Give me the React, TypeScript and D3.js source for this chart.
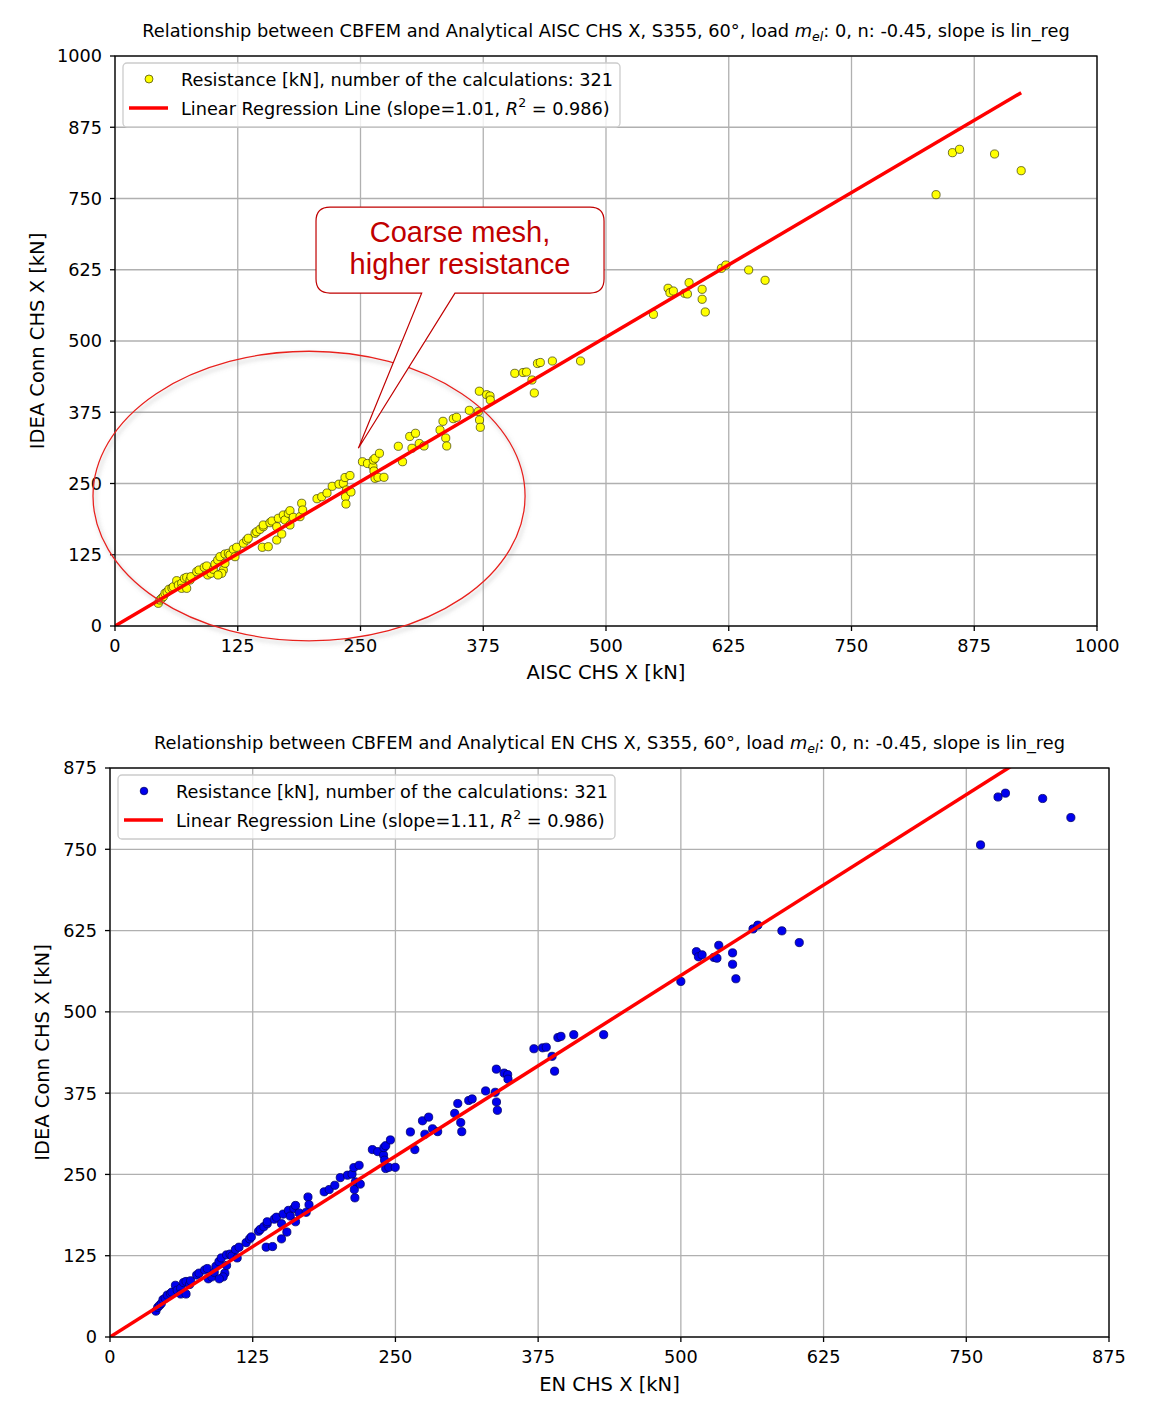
import React from 'react';
import * as d3 from 'd3';

// values: AISC resistance, EN resistance, IDEA Conn resistance [kN]
const aiscX = [
  44.1, 45.8, 47.6, 49.2, 50.9, 53, 55, 58, 59.4, 62.8, 64.5, 67.9, 67.9, 70.6, 73, 73, 76.4, 77.4, 83.2, 85.5,
  90.9, 93.4, 94.4, 97.8, 100.1, 101.8, 104.6, 106.9, 110.3, 112, 112, 115.4, 108.7, 104.9, 117.1, 120.5, 123.9, 122.2, 130.7, 134.1,
  135.7, 142.6, 144.3, 147.7, 151, 151, 150, 156.1, 157.8, 159.9, 164.7, 166.3, 164.7, 169.8, 171.4, 173.1, 176.5, 178.2, 178.2, 181.6,
  188.4, 190.1, 191.1, 205.7, 210.5, 215.9, 221.2, 228.1, 232.5, 234.2, 239.3, 235.7, 234.7, 235.2, 240.3, 252, 257.1, 262.7, 263, 264.8,
  269.3, 263.7, 264.8, 267.8, 273.9, 288.5, 292.8, 300.1, 306, 302.4, 309.8, 314.7, 331, 334, 336.8, 337.8, 344.5, 347.8, 360.8, 370,
  371.2, 372, 371, 378.5, 381.9, 382.2, 407.1, 415.5, 419, 424.6, 427, 430.2, 433.1, 445.4, 474.1, 548.3, 563.2, 565.1, 568.6, 580,
  582.9, 584.6, 597.9, 597.9, 601.1, 617.5, 622.1, 645.3, 662, 836.1, 852.8, 860, 895.7, 922.8,
];
const enX = [
  40.2, 41.8, 43.4, 44.9, 46.4, 48.3, 50.2, 52.9, 54.2, 57.3, 58.8, 61.9, 61.9, 64.4, 66.6, 66.6, 69.7, 70.6, 75.9, 78.0,
  82.9, 85.2, 86.1, 89.2, 91.3, 92.8, 95.4, 97.5, 100.6, 102.1, 102.1, 105.2, 99.1, 95.7, 106.8, 109.9, 113.0, 111.4, 119.2, 122.3,
  123.8, 130.1, 131.6, 134.7, 137.7, 137.7, 136.8, 142.4, 143.9, 145.8, 150.2, 151.7, 150.2, 154.9, 156.3, 157.9, 161.0, 162.5, 162.5, 165.6,
  171.8, 173.4, 174.3, 187.6, 192.0, 196.9, 201.7, 208.0, 212.0, 213.6, 218.2, 215.0, 214.0, 214.5, 219.2, 229.8, 234.5, 239.6, 239.9, 241.5,
  245.6, 240.5, 241.5, 244.2, 249.8, 263.1, 267.0, 273.7, 279.1, 275.8, 282.5, 287.0, 301.9, 304.6, 307.2, 308.1, 314.2, 317.2, 329.0, 337.4,
  338.5, 339.3, 338.4, 345.2, 348.3, 348.6, 371.3, 378.9, 382.1, 387.2, 389.4, 392.3, 395.0, 406.2, 432.4, 500.0, 513.6, 515.4, 518.6, 529.0,
  531.6, 533.2, 545.3, 545.3, 548.2, 563.2, 567.4, 588.5, 603.7, 762.5, 777.8, 784.3, 816.9, 841.6,
];
const ideaY = [
  39.8, 45.6, 48.6, 51.4, 57.4, 59.6, 64.4, 66.7, 68.9, 79.5, 71.9, 74.9, 66.1, 83.7, 85.4, 66.1, 80.7, 86.5, 95.3, 98.2,
  103, 105.3, 89.5, 92.5, 99.5, 108.8, 115.8, 121.6, 98.2, 110, 126.3, 127.5, 92.5, 89.5, 124.6, 134.6, 138.1, 121.6, 145.1, 150.9,
  153.9, 162.6, 165.4, 169.6, 174.2, 177.2, 138.1, 139.1, 181.2, 184.2, 174.2, 189, 150.9, 161.4, 194.7, 186, 197.7, 202.3, 177.2, 190.7,
  191.8, 215.3, 203.5, 223.3, 226.8, 233.3, 245.1, 248.8, 250.4, 260.5, 264, 238.6, 226.8, 214, 235.1, 288.2, 285.1, 279.8, 291.2, 294.2,
  303, 271.9, 259.1, 260.9, 260.9, 315.3, 288.2, 332.5, 338.1, 311.8, 320.2, 315.8, 343.9, 359.1, 329.8, 315.8, 363.7, 366.1, 378.4, 376.3,
  361.4, 348.6, 411.9, 405.8, 403.5, 396.5, 443.3, 444.7, 445.6, 431.6, 408.8, 460.5, 462.3, 464.9, 464.9, 546.8, 592.5, 584.7, 587.7, 583.7,
  582.5, 602.3, 590.7, 573.2, 550.9, 627.5, 633.3, 624.6, 606.5, 756.7, 830.4, 836.3, 828.1, 798.8,
];

const topTicks = [0, 125, 250, 375, 500, 625, 750, 875, 1000];
const bottomTicks = [0, 125, 250, 375, 500, 625, 750, 875];

const topSlope = 1.014;
const bottomSlope = 1.112;

const FONT = "'DejaVu Sans', sans-serif";
const FS = 17.7;

type PanelProps = {
  id: string;
  xs: number[];
  ys: number[];
  ticks: number[];
  max: number;
  slope: number;
  slopeLabel: string;
  code: string;
  xLabel: string;
  box: { left: number; right: number; top: number; bottom: number };
  titleY: number;
  xLabelY: number;
  yLabelX: number;
  fill: string;
  edge: string;
  edgeWidth: number;
  children?: (x: d3.ScaleLinear<number, number>, y: d3.ScaleLinear<number, number>) => React.ReactNode;
};

function Panel(p: PanelProps) {
  const { box } = p;
  const x = d3.scaleLinear().domain([0, p.max]).range([box.left, box.right]);
  const y = d3.scaleLinear().domain([0, p.max]).range([box.bottom, box.top]);
  const xEnd = d3.max(p.xs) as number;
  const line = d3.line<number>().x(d => x(d)).y(d => y(d * p.slope));
  const cx = (box.left + box.right) / 2;
  const cy = (box.top + box.bottom) / 2;
  const lx = box.left + 8;
  const ly = box.top + 7;

  return (
    <g fontFamily={FONT} fill="#000">
      <defs>
        <clipPath id={`clip-${p.id}`}>
          <rect x={box.left} y={box.top} width={box.right - box.left} height={box.bottom - box.top} />
        </clipPath>
      </defs>
      {/* grid */}
      {p.ticks.map(t => (
        <g key={`g${t}`} stroke="#b0b0b0" strokeWidth={1.3}>
          <line x1={x(t)} x2={x(t)} y1={box.top} y2={box.bottom} />
          <line x1={box.left} x2={box.right} y1={y(t)} y2={y(t)} />
        </g>
      ))}
      {/* points + regression */}
      <g clipPath={`url(#clip-${p.id})`}>
        {p.xs.map((v, i) => (
          <circle key={i} cx={x(v)} cy={y(p.ys[i])} r={4.1} fill={p.fill} stroke={p.edge} strokeWidth={p.edgeWidth} />
        ))}
        <path d={line([0, xEnd]) as string} stroke="#ff0000" strokeWidth={3.5} fill="none" />
      </g>
      {/* spines */}
      <rect x={box.left} y={box.top} width={box.right - box.left} height={box.bottom - box.top} fill="none" stroke="#000" strokeWidth={1.3} />
      {/* ticks */}
      {p.ticks.map(t => (
        <g key={`t${t}`}>
          <line x1={x(t)} x2={x(t)} y1={box.bottom} y2={box.bottom + 5} stroke="#000" strokeWidth={1.3} />
          <text x={x(t)} y={box.bottom + 26} textAnchor="middle" fontSize={FS}>{t}</text>
          <line x1={box.left - 5} x2={box.left} y1={y(t)} y2={y(t)} stroke="#000" strokeWidth={1.3} />
          <text x={box.left - 13} y={y(t)} dy="0.36em" textAnchor="end" fontSize={FS}>{t}</text>
        </g>
      ))}
      {/* axis labels */}
      <text x={cx} y={p.xLabelY} textAnchor="middle" fontSize={19.5}>{p.xLabel}</text>
      <text transform={`translate(${p.yLabelX},${cy}) rotate(-90)`} textAnchor="middle" fontSize={19.5}>IDEA Conn CHS X [kN]</text>
      {/* title */}
      <text x={cx} y={p.titleY} textAnchor="middle" fontSize={17.8}>
        {`Relationship between CBFEM and Analytical ${p.code} CHS X, S355, 60°, load `}
        <tspan fontStyle="italic">m</tspan>
        <tspan fontStyle="italic" fontSize={12.5} dy={4}>el</tspan>
        <tspan dy={-4}>{': 0, n: -0.45, slope is lin_reg'}</tspan>
      </text>
      {/* legend */}
      <rect x={lx} y={ly} width={497} height={64} rx={4} fill="#fff" fillOpacity={0.8} stroke="#cccccc" strokeWidth={1.3} />
      <circle cx={lx + 26} cy={ly + 16} r={p.id === 'top' ? 4 : 3.8} fill={p.fill} stroke={p.edge} strokeWidth={p.edgeWidth} />
      <text x={lx + 58} y={ly + 22.5} fontSize={FS}>Resistance [kN], number of the calculations: 321</text>
      <line x1={lx + 6} x2={lx + 45} y1={ly + 45} y2={ly + 45} stroke="#ff0000" strokeWidth={3.5} />
      <text x={lx + 58} y={ly + 51.5} fontSize={FS}>
        {`Linear Regression Line (slope=${p.slopeLabel}, `}
        <tspan fontStyle="italic">R</tspan>
        <tspan fontSize={12.5} dy={-8}>2</tspan>
        <tspan dy={8}>{' = 0.986)'}</tspan>
      </text>
      {p.children ? p.children(x, y) : null}
    </g>
  );
}

// annotation on the first chart, in data units
const ellipseNote = { cx: 197.6, cy: 228, rx: 220, ry: 254 };
const calloutNote = { x0: 204.7, x1: 498, top: 735, bottom: 584, tipX: 247.8, tipY: 311.8, base0: 312.3, base1: 346.2 };
const calloutLines = ['Coarse mesh,', 'higher resistance'];

function Annotation({ x, y }: { x: d3.ScaleLinear<number, number>; y: d3.ScaleLinear<number, number> }) {
  const ecx = x(ellipseNote.cx);
  const ecy = y(ellipseNote.cy);
  const erx = x(ellipseNote.cx + ellipseNote.rx) - ecx;
  const ery = ecy - y(ellipseNote.cy + ellipseNote.ry);
  const c = calloutNote;
  const X0 = x(c.x0), X1 = x(c.x1), T = y(c.top), B = y(c.bottom), r = 14;
  const d = `M${X0 + r},${T} H${X1 - r} Q${X1},${T} ${X1},${T + r} V${B - r} Q${X1},${B} ${X1 - r},${B} H${x(c.base1)} L${x(c.tipX)},${y(c.tipY)} L${x(c.base0)},${B} H${X0 + r} Q${X0},${B} ${X0},${B - r} V${T + r} Q${X0},${T} ${X0 + r},${T} Z`;
  const mid = (X0 + X1) / 2;
  return (
    <g>
      <defs>
        <filter id="shadow" x="-10%" y="-10%" width="125%" height="125%">
          <feDropShadow dx={2} dy={3} stdDeviation={2} floodColor="#808080" floodOpacity={0.55} />
        </filter>
      </defs>
      <ellipse cx={ecx} cy={ecy} rx={erx} ry={ery} fill="none" stroke="#e8211f" strokeWidth={1.3} filter="url(#shadow)" />
      <path d={d} fill="#fff" stroke="#c00000" strokeWidth={1.2} />
      {calloutLines.map((s, i) => (
        <text key={s} x={mid} y={T + 34.5 + i * 32} textAnchor="middle" fontSize={29} fill="#c00000" fontFamily="'Liberation Sans', Arial, sans-serif">{s}</text>
      ))}
    </g>
  );
}

export default function App() {
  return (
    <svg width={1153} height={1421} style={{ position: 'absolute', left: 0, top: 0, background: '#fff' }}>
      <rect width={1153} height={1421} fill="#fff" />
      <Panel
        id="top" xs={aiscX} ys={ideaY} ticks={topTicks} max={1000} slope={topSlope} slopeLabel="1.01"
        code="AISC" xLabel="AISC CHS X [kN]"
        box={{ left: 115, right: 1097, top: 56, bottom: 626 }}
        titleY={37} xLabelY={679} yLabelX={44}
        fill="#ffff00" edge="#3a3a00" edgeWidth={0.7}
      >
        {(x, y) => <Annotation x={x} y={y} />}
      </Panel>
      <Panel
        id="bottom" xs={enX} ys={ideaY} ticks={bottomTicks} max={875} slope={bottomSlope} slopeLabel="1.11"
        code="EN" xLabel="EN CHS X [kN]"
        box={{ left: 110, right: 1109, top: 768, bottom: 1337 }}
        titleY={749} xLabelY={1391} yLabelX={49}
        fill="#0000ee" edge="#00006a" edgeWidth={0.8}
      />
    </svg>
  );
}
